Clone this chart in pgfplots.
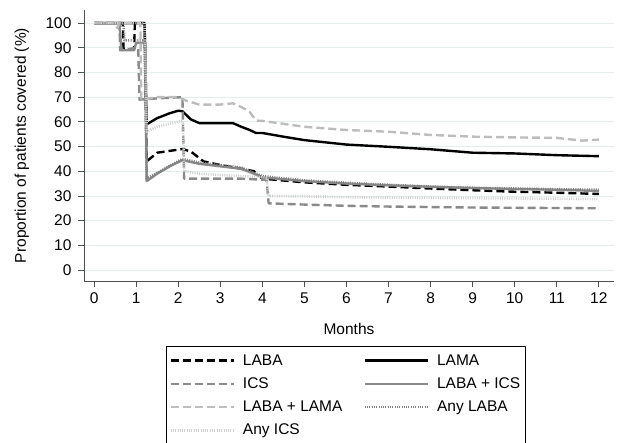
\documentclass[border=0pt]{standalone}
\usepackage{fontspec}
\setmainfont{Liberation Sans}
\usepackage{pgfplots}
\pgfplotsset{compat=1.18}
\definecolor{gridc}{HTML}{E4EEEE}
\definecolor{axc}{HTML}{505050}
\definecolor{midg}{HTML}{8A8A8A}
\definecolor{lightg}{HTML}{BDBDBD}
\definecolor{dotg}{HTML}{808080}
\definecolor{ldotg}{HTML}{D0D0D0}
\newcommand{\tf}{\fontsize{15.5}{18}\selectfont}
\begin{document}
\begin{tikzpicture}
\begin{axis}[
  at={(0,0)}, anchor=south west,
  scale only axis, width=530pt, height=271pt,
  xmin=-0.24, xmax=12.36, ymin=-4.45, ymax=105.3,
  axis x line*=bottom, axis y line*=left,
  axis line style={axc, line width=0.8pt},
  xtick={0,1,2,3,4,5,6,7,8,9,10,11,12},
  xticklabels={0,1,2,3,4,5,6,7,8,9,10,11,12},
  ytick={0,10,20,30,40,50,60,70,80,90,100},
  yticklabels={0,10,20,30,40,50,60,70,80,90,100},
  tick align=outside, major tick length=6pt,
  tick style={axc, line width=0.8pt},
  ymajorgrids, grid style={gridc, line width=0.8pt},
  font=\tf,
  xticklabel style={font=\tf, yshift=-2pt},
  yticklabel style={font=\tf, xshift=-3pt},
  xlabel={Months}, ylabel={Proportion of patients covered (\%)},
  xlabel style={at={(axis description cs:0.5,-0.177)}, anchor=center},
  ylabel style={at={(axis description cs:-0.117,0.5)}, anchor=center},
  legend columns=2,
  legend style={at={(axis description cs:0.1547,-0.2399)}, anchor=north west,
    draw=black, line width=0.8pt, font=\tf,
    inner xsep=3pt, inner ysep=6pt, row sep=7pt,
    /tikz/every odd column/.append style={column sep=6pt},
    /tikz/every even column/.append style={column sep=19pt}},
  legend cell align=left,
  legend image code/.code={\draw[#1] (0pt,0pt) -- (63pt,0pt);},
  line join=round,
]
% LABA
\addplot[black, line width=2.4pt, dash pattern=on 8pt off 4pt] coordinates {
(0,100)(0.68,100)(0.7,89.5)(0.95,89.5)(0.97,100)(1.2,100)(1.25,44)(1.5,47.5)(2.1,49)(2.3,48)(2.6,44)(3,42.5)(3.5,41)(3.8,40)(4,37)(5,35.5)(6,34.5)(7,33.8)(8,33)(9,32.3)(10,31.7)(11,31.3)(12,30.8)};
\addlegendentry{LABA}
% LAMA
\addplot[black, line width=2.4pt] coordinates {
(0,100)(1.2,100)(1.25,59)(1.5,61.5)(1.8,63.5)(2.0,64.5)(2.1,64.3)(2.3,61)(2.5,59.5)(3,59.5)(3.3,59.5)(3.5,58)(3.7,56.7)(3.85,55.5)(4,55.5)(4.5,54)(5,52.6)(6,50.8)(7,49.9)(8,48.9)(9,47.5)(10,47.2)(11,46.5)(12,46.1)};
\addlegendentry{LAMA}
% ICS
\addplot[midg, line width=2.4pt, dash pattern=on 8pt off 4pt] coordinates {
(0,100)(0.6,100)(0.62,89)(1.05,90)(1.08,69)(1.5,69.5)(2.1,70)(2.14,37)(2.5,37)(3,37)(3.5,37)(4.1,36.5)(4.15,27)(5,26.5)(6,26)(7,25.7)(8,25.5)(9,25.3)(10,25.2)(11,25.1)(12,25)};
\addlegendentry{ICS}
% LABA + ICS
\addplot[midg, line width=2.4pt] coordinates {
(0,100)(0.6,100)(0.65,89)(0.95,89)(1.0,92)(1.22,92)(1.25,36)(1.5,39)(1.8,42)(2.1,44.5)(2.5,43)(3,42)(3.5,41)(3.8,39)(4,37.5)(5,36)(6,35)(7,34.3)(8,33.7)(9,33.2)(10,32.8)(11,32.5)(12,32)};
\addlegendentry{LABA + ICS}
% LABA + LAMA
\addplot[lightg, line width=2.4pt, dash pattern=on 8pt off 4pt] coordinates {
(0,100)(0.45,100)(0.55,98)(0.6,100)(1.1,100)(1.12,69)(1.5,70)(2.0,70)(2.2,68.5)(2.5,67)(3,67)(3.3,67.5)(3.5,66)(3.7,64)(3.85,60.5)(4,60.4)(5,58)(6,56.7)(7,56)(8,54.7)(9,54)(10,53.7)(11,53.5)(11.6,52.4)(12,52.8)};
\addlegendentry{LABA + LAMA}
% Any LABA
\addplot[dotg, line width=2.6pt, dash pattern=on 1pt off 1.3pt] coordinates {
(0,100)(0.7,100)(0.72,93)(1.2,93)(1.25,37)(2.1,45)(2.5,43.5)(3,42.5)(3.5,41.5)(4,38)(5,36.3)(6,35.3)(7,34.5)(8,33.8)(9,33.3)(10,33)(11,32.7)(12,32.5)};
\addlegendentry{Any LABA}
% Any ICS
\addplot[ldotg, line width=2.6pt, dash pattern=on 1pt off 1.3pt] coordinates {
(0,100)(1.2,100)(1.25,56)(1.5,58)(2.1,60.5)(2.15,40)(2.5,39)(3,38.5)(3.5,38)(4.1,37.5)(4.15,30)(5,29.8)(6,29.5)(8,29.2)(10,29)(12,28.7)};
\addlegendentry{Any ICS}
\end{axis}
\pgfresetboundingbox
\useasboundingbox (-84pt,-162pt) rectangle (535pt,281pt);
\end{tikzpicture}
\end{document}
